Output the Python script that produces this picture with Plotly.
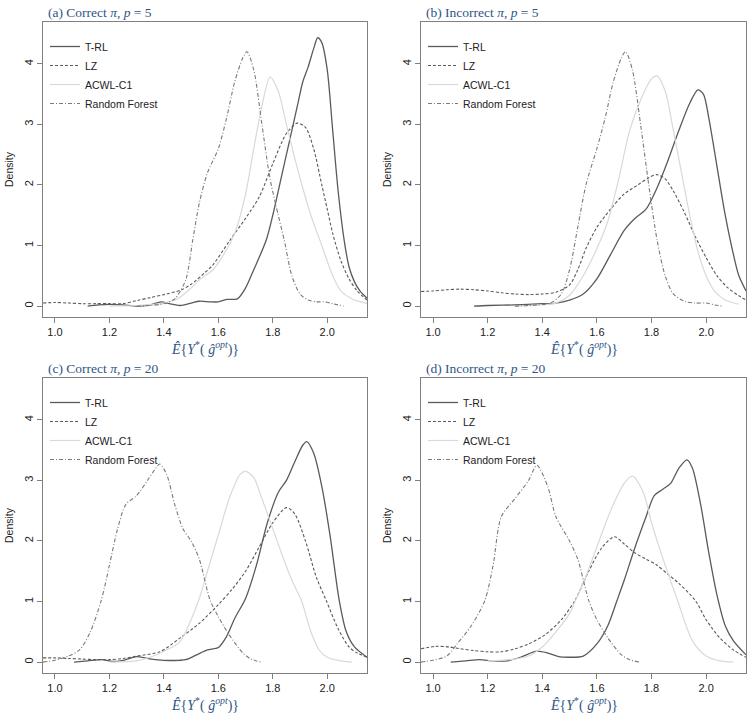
import plotly.graph_objects as go

# ---------------- data ----------------
methods = ["T-RL", "LZ", "ACWL-C1", "Random Forest"]
panel_titles = ["(a) Correct <i>π</i>, <i>p</i> = 5", "(b) Incorrect <i>π</i>, <i>p</i> = 5",
                "(c) Correct <i>π</i>, <i>p</i> = 20", "(d) Incorrect <i>π</i>, <i>p</i> = 20"]
x_ticks = [1.0, 1.2, 1.4, 1.6, 1.8, 2.0]
y_ticks = [0, 1, 2, 3, 4]

# Panel (a)
trl_a_x = [1.12, 1.16, 1.2, 1.25, 1.3, 1.35, 1.39, 1.42, 1.46, 1.5, 1.53, 1.57, 1.6, 1.63, 1.67, 1.7, 1.73, 1.776, 1.8, 1.83, 1.86, 1.89, 1.91, 1.93, 1.95, 1.965, 1.98, 2.0, 2.02, 2.04, 2.062, 2.08, 2.1, 2.12, 2.146]
trl_a_y = [0.0, 0.02, 0.03, 0.02, 0.0, 0.02, 0.07, 0.04, 0.01, 0.05, 0.08, 0.07, 0.07, 0.11, 0.12, 0.3, 0.6, 1.09, 1.5, 2.1, 2.7, 3.3, 3.7, 3.95, 4.25, 4.43, 4.35, 3.9, 2.9, 1.9, 1.09, 0.65, 0.4, 0.25, 0.13]
lz_a_x = [0.956, 1.0, 1.05, 1.1, 1.15, 1.2, 1.25, 1.3, 1.35, 1.4, 1.46, 1.5, 1.55, 1.58, 1.64, 1.7, 1.75, 1.8, 1.85, 1.89, 1.92, 1.95, 1.98, 2.0, 2.02, 2.05, 2.08, 2.11, 2.146]
lz_a_y = [0.05, 0.06, 0.05, 0.04, 0.04, 0.04, 0.04, 0.09, 0.14, 0.19, 0.26, 0.36, 0.55, 0.68, 1.07, 1.45, 1.8, 2.35, 2.85, 3.02, 2.95, 2.6, 2.0, 1.6, 1.2, 0.75, 0.45, 0.25, 0.1]
acwl_a_x = [1.2, 1.3, 1.4, 1.45, 1.5, 1.53, 1.58, 1.63, 1.66, 1.7, 1.73, 1.76, 1.79, 1.82, 1.85, 1.88, 1.91, 1.94, 1.98, 2.02, 2.05, 2.09, 2.146]
acwl_a_y = [0.0, 0.01, 0.05, 0.12, 0.3, 0.43, 0.6, 0.93, 1.2, 1.85, 2.6, 3.3, 3.78, 3.55, 3.0, 2.45, 1.95, 1.5, 1.0, 0.5, 0.25, 0.12, 0.04]
rf_a_x = [1.3, 1.35, 1.4, 1.44, 1.48, 1.506, 1.53, 1.56, 1.6, 1.63, 1.66, 1.69, 1.705, 1.73, 1.76, 1.79, 1.82, 1.842, 1.87, 1.9, 1.93, 1.96, 1.99, 2.02, 2.06]
rf_a_y = [0.0, 0.01, 0.04, 0.12, 0.43, 1.09, 1.7, 2.2, 2.6, 3.1, 3.7, 4.1, 4.2, 3.9, 3.0, 2.1, 1.5, 1.09, 0.5, 0.2, 0.1, 0.07, 0.07, 0.04, 0.0]

# Panel (b)
trl_b_x = [1.15, 1.2, 1.3, 1.4, 1.45, 1.5, 1.55, 1.6, 1.65, 1.7, 1.74, 1.78, 1.82, 1.86, 1.9, 1.94, 1.97, 1.99, 2.01, 2.04, 2.07, 2.1, 2.12, 2.146]
trl_b_y = [0.0, 0.01, 0.02, 0.04, 0.05, 0.1, 0.2, 0.45, 0.85, 1.25, 1.45, 1.6, 1.95, 2.4, 2.9, 3.35, 3.57, 3.5, 3.1, 2.3, 1.5, 0.85, 0.5, 0.25]
lz_b_x = [0.956, 1.0, 1.05, 1.1, 1.15, 1.2, 1.25, 1.3, 1.35, 1.4, 1.45, 1.5, 1.53, 1.56, 1.6, 1.65, 1.7, 1.75, 1.79, 1.82, 1.85, 1.88, 1.92, 1.96, 2.0, 2.04, 2.08, 2.12, 2.146]
lz_b_y = [0.24, 0.25, 0.27, 0.28, 0.27, 0.25, 0.22, 0.2, 0.19, 0.2, 0.23, 0.35, 0.6, 0.95, 1.3, 1.6, 1.85, 2.0, 2.12, 2.17, 2.1, 1.9, 1.55, 1.15, 0.8, 0.5, 0.3, 0.17, 0.1]
acwl_b_x = [1.3, 1.4, 1.45, 1.5, 1.55, 1.6, 1.64, 1.68, 1.72, 1.76, 1.8, 1.82, 1.85, 1.88, 1.91, 1.94, 1.97, 2.0, 2.03, 2.07, 2.12]
acwl_b_y = [0.0, 0.02, 0.05, 0.18, 0.5, 0.95, 1.4, 2.1, 2.9, 3.4, 3.75, 3.8, 3.55, 2.9, 2.2, 1.5, 0.9, 0.5, 0.25, 0.1, 0.03]
rf_b_x = [1.3, 1.38, 1.43, 1.47, 1.5, 1.53, 1.56, 1.6, 1.63, 1.66, 1.69, 1.705, 1.73, 1.76, 1.79, 1.82, 1.85, 1.88, 1.92, 1.96, 2.0, 2.03, 2.06]
rf_b_y = [0.0, 0.02, 0.05, 0.2, 0.6, 1.3, 2.0, 2.6, 3.1, 3.7, 4.1, 4.2, 3.9, 3.0, 2.0, 1.1, 0.5, 0.2, 0.08, 0.05, 0.05, 0.02, 0.0]

# Panel (c)
trl_c_x = [1.07, 1.12, 1.17, 1.22, 1.26, 1.3, 1.34, 1.4, 1.48, 1.52, 1.56, 1.6, 1.63, 1.66, 1.7, 1.74, 1.78, 1.82, 1.85, 1.88, 1.91, 1.925, 1.95, 1.98, 2.01, 2.044, 2.07, 2.1, 2.146]
trl_c_y = [0.0, 0.02, 0.04, 0.01, 0.04, 0.09, 0.06, 0.03, 0.04, 0.12, 0.2, 0.24, 0.42, 0.72, 1.05, 1.6, 2.3, 2.8, 3.0, 3.3, 3.58, 3.64, 3.45, 2.9, 2.1, 1.02, 0.5, 0.25, 0.08]
lz_c_x = [0.956, 1.0, 1.05, 1.1, 1.15, 1.2, 1.25, 1.3, 1.385, 1.46, 1.53, 1.6, 1.65, 1.7, 1.75, 1.8, 1.85, 1.88, 1.92, 1.96, 1.996, 2.04, 2.08, 2.11, 2.146]
lz_c_y = [0.07, 0.07, 0.06, 0.05, 0.04, 0.04, 0.06, 0.1, 0.17, 0.4, 0.64, 0.95, 1.2, 1.5, 1.9, 2.3, 2.55, 2.45, 2.0, 1.4, 1.02, 0.55, 0.25, 0.15, 0.08]
acwl_c_x = [1.2, 1.3, 1.35, 1.4, 1.458, 1.5, 1.53, 1.56, 1.6, 1.64, 1.68, 1.7, 1.73, 1.76, 1.8, 1.84, 1.87, 1.905, 1.94, 1.97, 2.0, 2.05, 2.09]
acwl_c_y = [0.0, 0.02, 0.08, 0.18, 0.33, 0.7, 1.05, 1.5, 2.1, 2.7, 3.1, 3.15, 3.05, 2.7, 2.2, 1.7, 1.35, 1.02, 0.5, 0.2, 0.08, 0.02, 0.0]
rf_c_x = [0.956, 1.0, 1.05, 1.09, 1.13, 1.17, 1.2, 1.23, 1.26, 1.3, 1.34, 1.37, 1.385, 1.41, 1.44, 1.47, 1.5, 1.53, 1.57, 1.6, 1.64, 1.69, 1.72, 1.757]
rf_c_y = [0.0, 0.03, 0.1, 0.2, 0.5, 1.02, 1.6, 2.2, 2.6, 2.75, 3.0, 3.2, 3.27, 3.1, 2.6, 2.2, 2.0, 1.7, 1.02, 0.75, 0.45, 0.15, 0.05, 0.0]

# Panel (d)
trl_d_x = [1.065, 1.12, 1.17, 1.22, 1.27, 1.32, 1.38, 1.42, 1.46, 1.5, 1.55, 1.6, 1.64, 1.674, 1.7, 1.74, 1.78, 1.81, 1.84, 1.87, 1.9, 1.93, 1.95, 1.98, 2.01, 2.04, 2.07, 2.1, 2.146]
trl_d_y = [0.0, 0.02, 0.04, 0.02, 0.02, 0.08, 0.18, 0.15, 0.09, 0.08, 0.1, 0.3, 0.6, 1.02, 1.35, 1.9, 2.4, 2.75, 2.85, 2.95, 3.2, 3.34, 3.2, 2.6, 1.8, 1.1, 0.6, 0.35, 0.12]
lz_d_x = [0.956, 1.01, 1.06, 1.1, 1.15, 1.2, 1.25, 1.3, 1.35, 1.41, 1.47, 1.52, 1.57, 1.62, 1.665, 1.7, 1.74, 1.78, 1.82, 1.86, 1.9, 1.96, 2.0, 2.05, 2.1, 2.146]
lz_d_y = [0.22, 0.26, 0.25, 0.22, 0.19, 0.17, 0.17, 0.22, 0.3, 0.45, 0.7, 1.02, 1.5, 1.9, 2.07, 1.95, 1.8, 1.7, 1.6, 1.45, 1.3, 1.02, 0.7, 0.4, 0.2, 0.08]
acwl_d_x = [1.2, 1.3, 1.35, 1.4, 1.45, 1.5, 1.52, 1.55, 1.6, 1.65, 1.7, 1.73, 1.77, 1.8, 1.85, 1.895, 1.95, 2.0, 2.05, 2.1]
acwl_d_y = [0.02, 0.05, 0.1, 0.25, 0.5, 0.8, 1.0, 1.3, 1.9, 2.5, 2.95, 3.07, 2.8, 2.3, 1.6, 1.02, 0.35, 0.1, 0.02, 0.0]
rf_d_x = [0.956, 1.0, 1.05, 1.09, 1.14, 1.19, 1.22, 1.25, 1.3, 1.35, 1.38, 1.42, 1.45, 1.5, 1.53, 1.57, 1.6, 1.64, 1.69, 1.72, 1.755]
rf_d_y = [0.0, 0.03, 0.1, 0.31, 0.6, 1.02, 1.6, 2.4, 2.7, 3.0, 3.25, 2.9, 2.4, 2.0, 1.7, 1.02, 0.7, 0.4, 0.12, 0.04, 0.0]

panels = [
    [(trl_a_x, trl_a_y), (lz_a_x, lz_a_y), (acwl_a_x, acwl_a_y), (rf_a_x, rf_a_y)],
    [(trl_b_x, trl_b_y), (lz_b_x, lz_b_y), (acwl_b_x, acwl_b_y), (rf_b_x, rf_b_y)],
    [(trl_c_x, trl_c_y), (lz_c_x, lz_c_y), (acwl_c_x, acwl_c_y), (rf_c_x, rf_c_y)],
    [(trl_d_x, trl_d_y), (lz_d_x, lz_d_y), (acwl_d_x, acwl_d_y), (rf_d_x, rf_d_y)],
]

# ---------------- styling ----------------
W, H = 750, 713
styles = [
    dict(color="#5a5a5a", width=1.3, dash="solid"),
    dict(color="#5a5a5a", width=1.1, dash="3px,2px"),
    dict(color="#d9d9d9", width=1.2, dash="solid"),
    dict(color="#7a7a7a", width=1.1, dash="4px,2px,1px,2px"),
]
# pixel boxes (left, right, top, bottom)
boxes = [(43, 367, 22, 317), (421, 746, 22, 317), (43, 367, 378, 673), (421, 746, 378, 673)]
title_color = "#2f5585"
sans = "Liberation Sans, Arial, sans-serif"
serif = "Liberation Serif, Times New Roman, serif"

fig = go.Figure()
layout = dict(width=W, height=H, margin=dict(l=0, r=0, t=0, b=0),
              paper_bgcolor="white", plot_bgcolor="white", showlegend=True,
              annotations=[])

xtitle = "<i>Ê</i>{<i>Y</i><sup>*</sup>( <i>ĝ</i><sup><i>opt</i></sup>)}"

for i, (curves, box) in enumerate(zip(panels, boxes)):
    n = "" if i == 0 else str(i + 1)
    lg = "legend" if i == 0 else "legend%d" % (i + 1)
    for m, (xs, ys), st in zip(methods, curves, styles):
        fig.add_trace(go.Scatter(
            x=xs, y=ys, mode="lines", name=m,
            line=dict(color=st["color"], width=st["width"], dash=st["dash"],
                      shape="spline", smoothing=0.8),
            xaxis="x" + n, yaxis="y" + n, legend=lg, hoverinfo="skip"))
    l, r, t, b = box
    axcommon = dict(showline=True, mirror=True, linecolor="#808080", linewidth=1,
                    ticks="outside", ticklen=5, tickcolor="#808080", showgrid=False,
                    zeroline=False, tickfont=dict(family=sans, size=11, color="#222"))
    layout["xaxis" + n] = dict(domain=[l / W, r / W], range=[0.956, 2.146], anchor="y" + n,
                               tickvals=x_ticks, ticktext=["%.1f" % v for v in x_ticks],
                               **axcommon)
    layout["yaxis" + n] = dict(domain=[1 - b / H, 1 - t / H], range=[-0.18, 4.69], anchor="x" + n,
                               tickvals=y_ticks, tickangle=-90,
                               title=dict(text="Density", standoff=6,
                                          font=dict(family=sans, size=10.5, color="#222")),
                               **axcommon)
    layout[lg] = dict(x=(l + 2) / W, y=1 - (t + 10) / H, xanchor="left", yanchor="top",
                      bgcolor="rgba(0,0,0,0)", borderwidth=0,
                      font=dict(family=sans, size=10.5, color="#222"),
                      tracegroupgap=0, itemwidth=30)
    layout["annotations"].append(dict(
        text=panel_titles[i], xref="paper", yref="paper", x=(l + 3) / W, y=1 - (t - 10) / H,
        xanchor="left", yanchor="middle", showarrow=False,
        font=dict(family=serif, size=13.5, color=title_color)))
    layout["annotations"].append(dict(
        text=xtitle, xref="paper", yref="paper", x=(l + r) / 2 / W, y=1 - (b + 31) / H,
        xanchor="center", yanchor="middle", showarrow=False,
        font=dict(family=serif, size=14, color=title_color)))

fig.update_layout(**layout)
fig.write_html("out.html", config={"displayModeBar": False},
               post_script="document.body.style.margin='0px';document.body.style.overflow='hidden';")
